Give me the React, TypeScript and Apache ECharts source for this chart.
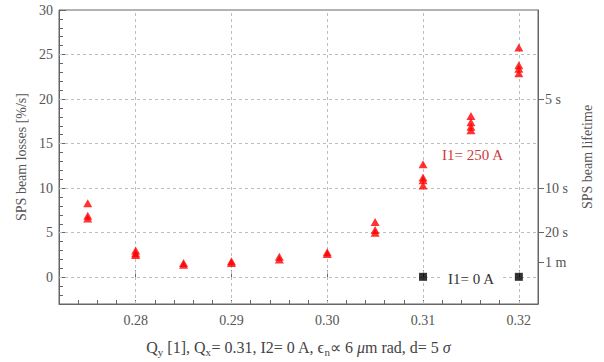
import React, { useEffect, useRef } from "react";
import * as echarts from "echarts";

// Data
const qyI1 = [
  0.275, 0.275, 0.275,
  0.28, 0.28, 0.28,
  0.285, 0.285,
  0.29, 0.29,
  0.295, 0.295,
  0.3, 0.3,
  0.305, 0.305, 0.305,
  0.31, 0.31, 0.31, 0.31,
  0.315, 0.315, 0.315, 0.315,
  0.32, 0.32, 0.32, 0.32,
];
const lossI1 = [
  8.3, 6.9, 6.6,
  3.0, 2.7, 2.5,
  1.6, 1.4,
  1.8, 1.6,
  2.3, 2.0,
  2.8, 2.6,
  6.2, 5.3, 5.0,
  12.7, 11.2, 10.9, 10.3,
  18.1, 17.4, 16.9, 16.5,
  25.8, 23.8, 23.4, 22.9,
];
const qyI0 = [0.31, 0.32];
const lossI0 = [0.05, 0.05];

const xMajorTicks = [0.28, 0.29, 0.3, 0.31, 0.32];
const yMajorTicks = [0, 5, 10, 15, 20, 25, 30];
const yGridValues = [0, 5, 10, 15, 20, 25];
const lifetimeValues = [20, 10, 5, 100 / 60];
const lifetimeLabels = ["5 s", "10 s", "20 s", "1 m"];

const FONT = '"Liberation Serif", serif';
const TXT = "#555";
const AX = "#666";

export default function App() {
  const ref = useRef<HTMLDivElement>(null);
  useEffect(() => {
    document.body.style.margin = "0";
    const chart = echarts.init(ref.current!, null, { renderer: "svg" });
    const gridLine = { color: "#bdbdbd", type: [3, 3] as any, width: 1 };
    const option: any = {
      animation: false,
      backgroundColor: "#fff",
      textStyle: { fontFamily: FONT },
      grid: {
        left: 59,
        right: 66,
        top: 10,
        bottom: 55,
        show: true,
        borderColor: AX,
        borderWidth: 1,
        backgroundColor: "transparent",
      },
      xAxis: [
        {
          type: "value",
          min: 0.272,
          max: 0.322,
          interval: 0.002,
          position: "bottom",
          axisLine: { show: true, onZero: false, lineStyle: { color: AX } },
          axisTick: { show: true, inside: true, length: 4, lineStyle: { color: AX } },
          splitLine: { show: false },
          axisLabel: {
            margin: 9,
            color: TXT,
            fontFamily: FONT,
            fontSize: 14,
            formatter: (v: number) =>
              Math.abs(v * 100 - Math.round(v * 100)) < 1e-6 ? v.toFixed(2) : "",
          },
          name:
            "{n|Q}{s|y}{n| [1], Q}{s|x}{n|= 0.31, I2= 0 A, ϵ}{s|n}{n|∝ 6 }{i|μ}{n|m rad, d= 5 }{i|σ}",
          nameLocation: "middle",
          nameGap: 33,
          nameTextStyle: {
            color: "#444",
            fontFamily: FONT,
            fontSize: 16,
            rich: {
              n: { fontFamily: FONT, fontSize: 16, color: "#444", lineHeight: 20 },
              s: { fontFamily: FONT, fontSize: 11, color: "#444", lineHeight: 20, padding: [9, 0, 0, 0] },
              i: { fontFamily: FONT, fontSize: 16, color: "#444", fontStyle: "italic", lineHeight: 20 },
            },
          },
        },
        {
          type: "value",
          min: 0.272,
          max: 0.322,
          position: "bottom",
          axisLine: { show: false },
          axisTick: { show: true, inside: true, length: 7, customValues: xMajorTicks, lineStyle: { color: AX } },
          axisLabel: { show: false },
          splitLine: { show: false },
        },
      ],
      yAxis: [
        {
          type: "value",
          min: -3,
          max: 30,
          interval: 1,
          position: "left",
          axisLine: { show: true, onZero: false, lineStyle: { color: AX } },
          axisTick: { show: true, inside: true, length: 4, lineStyle: { color: AX } },
          splitLine: { show: false },
          axisLabel: {
            margin: 6,
            color: TXT,
            fontFamily: FONT,
            fontSize: 14,
            formatter: (v: number) => (yMajorTicks.indexOf(Math.round(v)) >= 0 && Math.abs(v - Math.round(v)) < 1e-6 ? String(Math.round(v)) : ""),
          },
          name: "SPS beam losses [%/s]",
          nameLocation: "middle",
          nameGap: 29,
          nameTextStyle: { color: TXT, fontFamily: FONT, fontSize: 14 },
        },
        {
          type: "value",
          min: -3,
          max: 30,
          position: "right",
          axisLine: { show: true, onZero: false, lineStyle: { color: AX } },
          axisTick: { show: true, inside: false, length: 6, customValues: lifetimeValues, lineStyle: { color: AX } },
          splitLine: { show: false },
          axisLabel: {
            margin: 7,
            color: TXT,
            fontFamily: FONT,
            fontSize: 14,
            customValues: lifetimeValues,
            formatter: (v: number) => {
              let best = 0;
              lifetimeValues.forEach((lv, i) => {
                if (Math.abs(lv - v) < Math.abs(lifetimeValues[best] - v)) best = i;
              });
              return lifetimeLabels[best];
            },
          },
          name: "SPS beam lifetime",
          nameLocation: "middle",
          nameRotate: 90,
          nameGap: 42,
          nameTextStyle: { color: TXT, fontFamily: FONT, fontSize: 14 },
        },
        {
          type: "value",
          min: -3,
          max: 30,
          position: "left",
          axisLine: { show: false },
          axisTick: { show: true, inside: true, length: 7, customValues: yMajorTicks, lineStyle: { color: AX } },
          axisLabel: { show: false },
          splitLine: { show: false },
        },
      ],
      series: [
        {
          name: "grid",
          type: "scatter",
          xAxisIndex: 0,
          yAxisIndex: 0,
          data: [],
          z: 1,
          silent: true,
          markLine: {
            z: 1,
            silent: true,
            symbol: ["none", "none"],
            label: { show: false },
            lineStyle: gridLine,
            emphasis: { disabled: true },
            data: [
              ...yGridValues.map((v) => ({ yAxis: v })),
              ...xMajorTicks.map((v) => ({ xAxis: v })),
            ],
          },
        },
        {
          name: "I1=0",
          type: "scatter",
          xAxisIndex: 0,
          yAxisIndex: 0,
          symbol: "rect",
          symbolSize: 8,
          itemStyle: { color: "#000" },
          z: 3,
          data: qyI0.map((x, i) => [x, lossI0[i]]),
        },
        {
          name: "I1=250",
          type: "scatter",
          xAxisIndex: 0,
          yAxisIndex: 0,
          symbol: "triangle",
          symbolSize: [9, 8],
          itemStyle: { color: "#ff0000" },
          z: 4,
          data: qyI1.map((x, i) => [x, lossI1[i]]),
        },
      ],
      graphic: [
        {
          type: "text",
          left: 442,
          top: 147,
          z: 10,
          style: { text: "I1= 250 A", fill: "#cc3b3b", font: `15px ${FONT}` },
        },
        {
          type: "text",
          left: 443,
          top: 271,
          z: 10,
          style: {
            text: "I1= 0 A",
            fill: "#333",
            font: `15px ${FONT}`,
            backgroundColor: "#fff",
            padding: [0, 5, 0, 5],
          },
        },
      ],
    };
    chart.setOption(option);
    return () => chart.dispose();
  }, []);
  return <div ref={ref} style={{ width: 604, height: 362 }} />;
}
